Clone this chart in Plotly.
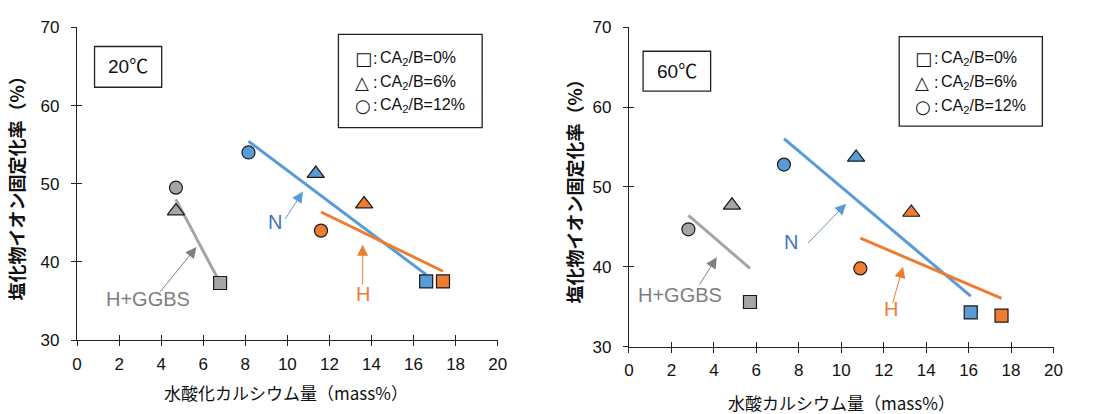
import numpy as np
import plotly.graph_objects as go

# Measured values, ordered CA2/B = 0 %, 6 %, 12 %
ca_symbols = ["square", "triangle-up", "circle"]
ca_labels = ["CA<sub>2</sub>/B=0%", "CA<sub>2</sub>/B=6%", "CA<sub>2</sub>/B=12%"]
ca_glyphs = ["□", "△", "○"]

series_names = ["H+GGBS", "N", "H"]

# 20 °C : calcium hydroxide content (mass%) and chloride fixation ratio (%)
ch_20_hggbs = [6.8, 4.7, 4.7]
fix_20_hggbs = [37.3, 46.5, 49.5]
ch_20_n = [16.6, 11.35, 8.15]
fix_20_n = [37.5, 51.3, 54.0]
ch_20_h = [17.4, 13.65, 11.6]
fix_20_h = [37.5, 47.4, 44.0]

# 60 °C
ch_60_hggbs = [5.7, 4.85, 2.8]
fix_60_hggbs = [35.6, 47.7, 44.7]
ch_60_n = [16.1, 10.7, 7.3]
fix_60_n = [34.3, 53.7, 52.8]
ch_60_h = [17.55, 13.3, 10.9]
fix_60_h = [33.9, 46.8, 39.8]

x_ticks = list(range(0, 21, 2))
y_ticks = [30, 40, 50, 60, 70]

y_title = "塩化物イオン固定化率（%）"
x_title_20 = "水酸化カルシウム量（mass%）"
x_title_60 = "水酸カルシウム量（mass%）"

fill = {"H+GGBS": "#A5A5A5", "N": "#5B9BD5", "H": "#ED7D31"}
label_col = {"H+GGBS": "#7F7F7F", "N": "#4472C4", "H": "#ED7D31"}
arrow_col = {"H+GGBS": "#808080", "N": "#5B9BD5", "H": "#ED7D31"}

NUM_FONT = "Liberation Sans, Arial, Noto Sans CJK JP"
JP_FONT = "Noto Sans CJK JP, Liberation Sans"
SHAPE_FONT = "DejaVu Sans, Noto Sans CJK JP"

W, H = 1103, 414


def px(x):
    return x / W


def py(y):
    return 1 - y / H


panels = [
    ("x", "y", {"H+GGBS": (ch_20_hggbs, fix_20_hggbs), "N": (ch_20_n, fix_20_n),
                "H": (ch_20_h, fix_20_h)}),
    ("x2", "y2", {"H+GGBS": (ch_60_hggbs, fix_60_hggbs), "N": (ch_60_n, fix_60_n),
                  "H": (ch_60_h, fix_60_h)}),
]

fig = go.Figure()

for xa, ya, groups in panels:
    # least-squares trend line of each series over its own data range
    for name in series_names:
        xs, ys = np.array(groups[name][0]), np.array(groups[name][1])
        k, b = np.polyfit(xs, ys, 1)
        xl = np.array([xs.min(), xs.max()])
        fig.add_trace(go.Scatter(x=xl, y=k * xl + b, mode="lines", xaxis=xa, yaxis=ya,
                                 line=dict(color=fill[name], width=3), showlegend=False,
                                 hoverinfo="skip"))
    for name in series_names:
        xs, ys = groups[name]
        for i, sym in enumerate(ca_symbols):
            fig.add_trace(go.Scatter(
                x=[xs[i]], y=[ys[i]], mode="markers", xaxis=xa, yaxis=ya,
                marker=dict(symbol=sym, size=13 if sym != "triangle-up" else 15,
                            color=fill[name], line=dict(color="#1A1A1A", width=1.2)),
                name=f"{name} {ca_labels[i]}", showlegend=False))

# empty traces that carry the overlay axes used for the inner half of the tick marks
for xa, ya in [("x3", "y3"), ("x4", "y4")]:
    fig.add_trace(go.Scatter(x=[], y=[], xaxis=xa, yaxis=ya, showlegend=False))

axis_common = dict(showgrid=False, zeroline=False, showline=True, linecolor="#222222",
                   linewidth=1.3, ticks="outside", ticklen=5, tickwidth=1.2,
                   tickcolor="#222222", tickfont=dict(family=NUM_FONT, size=17, color="#111111"))
inner_common = dict(showgrid=False, zeroline=False, showline=False, ticks="inside",
                    ticklen=5, tickwidth=1.2, tickcolor="#222222", showticklabels=False)
ytitle_font = dict(family=JP_FONT, size=18, color="#111111", weight="bold")

left_x = [px(73), px(499)]
left_y = [py(347), py(19.3)]
right_x = [px(632), px(1062)]
right_y = [py(354), py(19)]

fig.update_layout(
    width=W, height=H, margin=dict(l=0, r=0, t=0, b=0),
    paper_bgcolor="white", plot_bgcolor="white", showlegend=False,
    xaxis=dict(domain=left_x, anchor="y", range=[0, 20], tickvals=x_ticks,
               ticklabelstandoff=3, **axis_common),
    yaxis=dict(domain=left_y, anchor="x", range=[30, 70], tickvals=y_ticks,
               ticklabelstandoff=8, title=dict(text=y_title, font=ytitle_font, standoff=11),
               **axis_common),
    xaxis2=dict(domain=right_x, anchor="y2", range=[0, 20], tickvals=x_ticks,
                ticklabelstandoff=3, **axis_common),
    yaxis2=dict(domain=right_y, anchor="x2", range=[30, 70], tickvals=y_ticks,
                ticklabelstandoff=8, title=dict(text=y_title, font=ytitle_font, standoff=5),
                **axis_common),
    xaxis3=dict(overlaying="x", anchor="y3", range=[0, 20], tickvals=x_ticks, **inner_common),
    yaxis3=dict(overlaying="y", anchor="x3", range=[30, 70], tickvals=y_ticks, **inner_common),
    xaxis4=dict(overlaying="x2", anchor="y4", range=[0, 20], tickvals=x_ticks, **inner_common),
    yaxis4=dict(overlaying="y2", anchor="x4", range=[30, 70], tickvals=y_ticks, **inner_common),
)

annotations = []
shapes = []


def paper_text(text, x, y, size, family, xanchor="center", color="#111111"):
    return dict(text=text, xref="paper", yref="paper", x=px(x), y=py(y), xanchor=xanchor,
                yanchor="middle", showarrow=False,
                font=dict(family=family, size=size, color=color))


# x-axis titles
annotations += [
    paper_text(x_title_20, 285, 402, 17, JP_FONT),
    paper_text(x_title_60, 847, 412, 17, JP_FONT),
]

# temperature boxes
for (x0, y0, x1, y1), label in [((90.7, 39.3, 158.7, 82), "20℃"), ((646.3, 44.3, 714.7, 86), "60℃")]:
    shapes.append(dict(type="rect", xref="paper", yref="paper", x0=px(x0), x1=px(x1),
                       y0=py(y1), y1=py(y0), line=dict(color="#222222", width=1.3)))
    annotations.append(paper_text(label, (x0 + x1) / 2, (y0 + y1) / 2, 19, NUM_FONT))

# symbol key boxes
for (x0, y0, x1, y1), gx, rows in [((337.7, 26.7, 483.3, 124.3), 352, (51.7, 76.7, 101)),
                                   ((905.7, 29, 1050.7, 122.7), 920, (51.7, 76.7, 101.7))]:
    shapes.append(dict(type="rect", xref="paper", yref="paper", x0=px(x0), x1=px(x1),
                       y0=py(y1), y1=py(y0), line=dict(color="#222222", width=1.3)))
    for glyph, lab, ry in zip(ca_glyphs, ca_labels, rows):
        annotations.append(paper_text(glyph, gx, ry, 18, SHAPE_FONT, xanchor="left"))
        annotations.append(paper_text(":", gx + 19, ry, 16, NUM_FONT, xanchor="left"))
        annotations.append(paper_text(lab, gx + 26, ry, 16, NUM_FONT, xanchor="left"))

# series callouts: (label position, arrow tail, arrow head) in data units
callouts = [
    ("x", "y", "H+GGBS", (3.38, 35.3), (3.9, 36.0), (5.68, 41.9)),
    ("x", "y", "N", (9.4, 45.1), (9.85, 45.3), (10.74, 49.0)),
    ("x", "y", "H", (13.58, 35.9), (13.58, 36.9), (13.58, 42.2)),
    ("x2", "y2", "H+GGBS", (2.4, 36.45), (3.28, 37.6), (4.14, 41.2)),
    ("x2", "y2", "N", (7.64, 43.1), (8.37, 42.8), (10.23, 47.9)),
    ("x2", "y2", "H", (12.33, 34.7), (12.4, 35.3), (12.91, 40.0)),
]
for xa, ya, name, (lx, ly), (tx0, ty0), (hx, hy) in callouts:
    annotations.append(dict(text=name, xref=xa, yref=ya, x=lx, y=ly, showarrow=False,
                            xanchor="center", yanchor="middle",
                            font=dict(family=NUM_FONT, size=20, color=label_col[name])))
    annotations.append(dict(text="", xref=xa, yref=ya, x=hx, y=hy, axref=xa, ayref=ya,
                            ax=tx0, ay=ty0, showarrow=True, arrowhead=2, arrowsize=2.2,
                            arrowwidth=1, arrowcolor=arrow_col[name], standoff=0))

fig.update_layout(annotations=annotations, shapes=shapes)

fig.write_html("out.html")
